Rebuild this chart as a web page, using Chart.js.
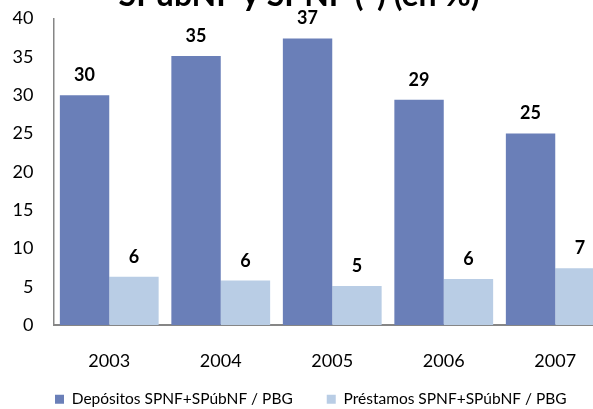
<!DOCTYPE html>
<html lang="es">
<head>
<meta charset="utf-8">
<script src="https://cdn.jsdelivr.net/npm/chart.js@4.4.1/dist/chart.umd.min.js"></script>
<style>
  html, body { margin: 0; padding: 0; background: #fff; overflow: hidden; }
  /* el gráfico original está recortado a la derecha y abajo */
  #wrap { width: 593px; height: 409px; overflow: hidden; }
</style>
</head>
<body>
<div id="wrap"><canvas id="grafico" width="611" height="417"></canvas></div>
<script>
// --- Datos del gráfico ---
const categorias = ['2003', '2004', '2005', '2006', '2007'];
const depositos = [30.0, 35.1, 37.4, 29.4, 25.0];
const prestamos = [6.3, 5.8, 5.1, 6.0, 7.4];
const nombresSeries = ['Depósitos SPNF+SPúbNF / PBG', 'Préstamos SPNF+SPúbNF / PBG'];
const tituloTexto = 'SPúbNF y SPNF (*) (en %)';

const colorOscuro = '#6a7fb8';
const colorClaro = '#b9cde5';
const colorEje = '#868686';

// Etiquetas de valor sobre cada barra (redondeadas como en el original)
const etiquetasValores = {
  id: 'etiquetasValores',
  afterDatasetsDraw(chart) {
    const ctx = chart.ctx;
    ctx.save();
    ctx.font = 'bold 18px Lato';
    ctx.fillStyle = '#000';
    ctx.textAlign = 'center';
    ctx.textBaseline = 'alphabetic';
    chart.data.datasets.forEach((ds, i) => {
      chart.getDatasetMeta(i).data.forEach((barra, j) => {
        ctx.fillText(String(Math.round(ds.data[j])), barra.x, barra.y - 14);
      });
    });
    ctx.restore();
  }
};

// Título (queda cortado arriba, igual que en la imagen)
const tituloCortado = {
  id: 'tituloCortado',
  afterLayout(chart) {
    // que el recorte de las etiquetas de los ejes no se coma los textos
    chart.scales.y.left = 0;
    chart.scales.x.bottom = chart.height;
  },
  afterDraw(chart) {
    const ctx = chart.ctx;
    ctx.save();
    ctx.font = 'bold 32px Lato';
    ctx.fillStyle = '#000';
    ctx.textAlign = 'center';
    ctx.textBaseline = 'alphabetic';
    ctx.fillText(tituloTexto, 299, 6);
    ctx.restore();
  }
};

new Chart(document.getElementById('grafico').getContext('2d'), {
  type: 'bar',
  data: {
    labels: categorias,
    datasets: [
      { label: nombresSeries[0], data: depositos, backgroundColor: colorOscuro, borderWidth: 0 },
      { label: nombresSeries[1], data: prestamos, backgroundColor: colorClaro, borderWidth: 0 }
    ]
  },
  options: {
    responsive: false,
    animation: false,
    layout: { padding: { left: 21, right: 0, top: 18.5, bottom: 0 } },
    datasets: { bar: { categoryPercentage: 0.886, barPercentage: 1 } },
    scales: {
      y: {
        min: 0, max: 40,
        ticks: { stepSize: 5, color: '#000', font: { family: 'Lato', size: 18 }, padding: 0 },
        grid: { display: false, drawTicks: true, tickLength: 20 },
        border: { color: colorEje, width: 1.5 },
        afterFit: (s) => { s.width = 32.5; }
      },
      x: {
        ticks: { color: '#000', font: { family: 'Lato', size: 18 }, padding: 25.5, maxRotation: 0 },
        grid: { display: false, drawTicks: false },
        border: { color: colorEje, width: 2 },
        afterFit: (s) => { s.height = 32.5; }
      }
    },
    plugins: {
      legend: {
        position: 'bottom',
        align: 'start',
        labels: {
          boxWidth: 9, boxHeight: 9, padding: 34,
          color: '#000', font: { family: 'Lato', size: 15.5 }
        }
      },
      tooltip: { enabled: false }
    }
  },
  plugins: [etiquetasValores, tituloCortado]
});
</script>
</body>
</html>
